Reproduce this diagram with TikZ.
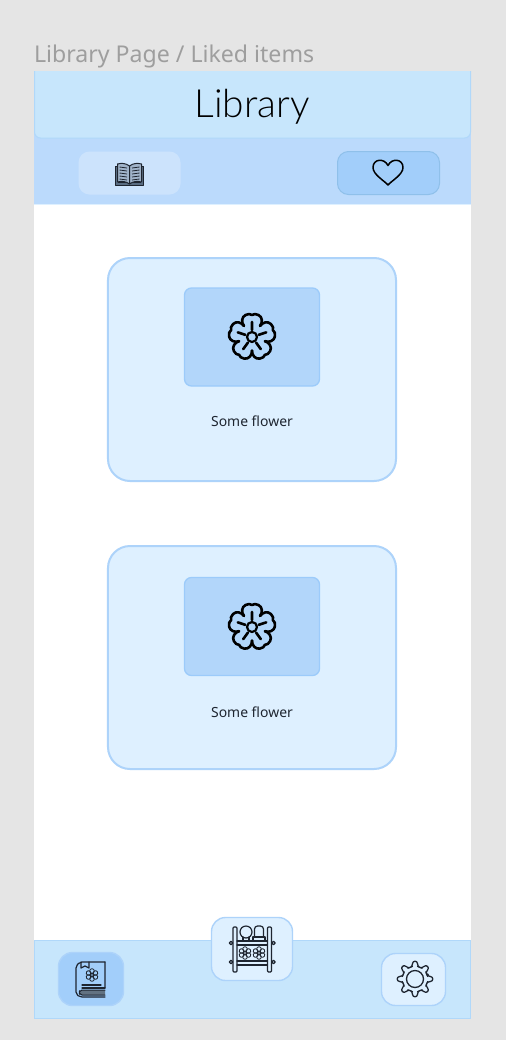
\documentclass[tikz,border=0pt]{standalone}
\usepackage{fontspec}
\setmainfont{Noto Sans}
\newfontfamily\thinfont{Lato Light}
\definecolor{pagecol}{HTML}{E5E5E5}
\definecolor{captioncol}{HTML}{9E9E9E}
\definecolor{barcol}{HTML}{C7E6FC}
\definecolor{barline}{HTML}{B0D8FA}
\definecolor{tabcol}{HTML}{BBDAFC}
\definecolor{softcol}{HTML}{CCE3FC}
\definecolor{activecol}{HTML}{A2CEFA}
\definecolor{activeline}{HTML}{8FC0EA}
\definecolor{cardcol}{HTML}{DEF0FF}
\definecolor{cardline}{HTML}{ADD3FA}
\definecolor{imgcol}{HTML}{B2D6FA}
\definecolor{imgline}{HTML}{9CCBFA}
\definecolor{inkcol}{HTML}{1E2530}
\tikzset{
  box/.style={rectangle,inner sep=0pt,outer sep=0pt},
  tabbtn/.style={box,rounded corners=11bp,minimum width=102bp,minimum height=43bp},
  card/.style={box,draw=cardline,fill=cardcol,line width=2bp,rounded corners=22bp,minimum width=288bp,minimum height=223bp},
  imgbox/.style={box,draw=imgline,fill=imgcol,line width=1.3bp,rounded corners=7bp,minimum width=135bp,minimum height=98bp},
  navbtn/.style={box,draw=cardline,line width=1.4bp,rounded corners=14bp},
  ink/.style={draw=inkcol,line width=1bp,line join=round,line cap=round},
  flowericon/.pic={
    \foreach \a in {0,72,...,288}
      \draw[black,line width=2.6bp,line join=round,line cap=round,rotate=\a]
        (-8,-11) .. controls (-10.8,-14.5) and (-10.5,-20) .. (-6.5,-22)
        .. controls (-4,-23.4) and (-1.5,-23.2) .. (0,-22)
        .. controls (1.5,-23.2) and (4,-23.4) .. (6.5,-22)
        .. controls (10.5,-20) and (10.8,-14.5) .. (8,-11)
        (0,-7) -- (0,-15);
    \draw[black,line width=2.2bp] (0,0) circle (5);
  },
  hearticon/.pic={
    \draw[black,line width=1.5bp,line join=round]
      (0,12.5) .. controls (-4,8) and (-15,2) .. (-15,-5)
      .. controls (-15,-13.5) and (-4,-15) .. (0,-7)
      .. controls (4,-15) and (15,-13.5) .. (15,-5)
      .. controls (15,2) and (4,8) .. (0,12.5) -- cycle;
  },
  bookicon/.pic={
    \draw[ink,fill=inkcol!60!imgcol] (-14,-8) -- (-14,11) -- (14,11) -- (14,-8) -- (11,-8) -- (11,8) -- (-11,8) -- (-11,-8) -- cycle;
    \draw[ink,fill=inkcol!25!softcol] (0,-8) .. controls (-4,-11) and (-8,-11) .. (-12,-10) -- (-12,8)
      .. controls (-8,7) and (-4,7) .. (0,10) .. controls (4,7) and (8,7) .. (12,8) -- (12,-10)
      .. controls (8,-11) and (4,-11) .. (0,-8) -- cycle (0,-8) -- (0,10);
    \foreach \y in {-6,-3,0,3,6} {
      \draw[draw=inkcol,line width=.8bp] (-10,\y-1) -- (-2.5,\y);
      \draw[draw=inkcol,line width=.8bp] (10,\y-1) -- (2.5,\y);
    }
  },
  smallflower/.pic={
    \foreach \a in {0,60,...,300}
      \draw[ink,line width=.8bp,rotate=\a] (0,-4) circle (2.3);
    \draw[ink,line width=.8bp] (0,0) circle (1.8);
  },
  flowerbook/.pic={
    \draw[ink,line width=1.2bp,rounded corners=2bp] (14,-17) -- (-11,-17) -- (-15,-13) -- (-15,15) -- (-11,18) -- (14,18);
    \draw[ink,line width=1.2bp] (14,-17) -- (14,9) (-10,-17) -- (-10,-11) -- (-6,-13) -- (-2,-11) -- (-2,-17);
    \draw[ink,line width=1.2bp] (-9,9) -- (14,9) (-9,6) -- (10,6);
    \draw[ink,fill=inkcol!60!barcol,line width=1bp,rounded corners=2bp] (14,11) -- (-11,11) -- (-12,13.5) -- (-11,16) -- (14,16);
    \pic at (1,-4) {smallflower};
  },
  gearicon/.pic={
    \draw[ink,line width=1.3bp,rounded corners=2.5bp]
      (-11:13)
      \foreach \a in {0,45,...,315} {
        -- (\a-11:13) -- (\a-8:18) -- (\a+8:18) -- (\a+11:13) -- (\a+22.5:12.5)
      } -- cycle;
    \draw[ink,line width=1.3bp] (0,0) circle (8.5);
  },
  shelficon/.pic={
    \draw[ink,line width=1.2bp,rounded corners=1bp] (-19,-22) rectangle (-15,23);
    \draw[ink,line width=1.2bp,rounded corners=1bp] (15.5,-22) rectangle (19.5,23);
    \draw[ink,line width=1.2bp] (-15,-8) -- (15.5,-8) (-15,-4) -- (15.5,-4);
    \draw[ink,line width=1.2bp] (-15,12) -- (15.5,12) (-15,16) -- (15.5,16);
    \foreach \x/\y in {-21/-6,-21/13,21.5/-6,21.5/13}
      \draw[ink,line width=1.2bp] (\x,\y) circle (1.8);
    \draw[ink,line width=1.2bp] (-6,-17) circle (6);
    \draw[ink,line width=1.2bp] (-9,-12) -- (-9,-8) (-3,-12) -- (-3,-8);
    \draw[ink,line width=1.2bp,rounded corners=3bp] (2.5,-12) -- (2.5,-23) -- (11.5,-23) -- (11.5,-12);
    \draw[ink,line width=1.2bp] (1,-12) rectangle (13,-8);
    \pic at (-7,4) {smallflower};
    \pic at (7,4) {smallflower};
  },
}
\begin{document}
\begin{tikzpicture}[x=1bp,y=-1bp]
  \useasboundingbox[fill=pagecol] (0,0) rectangle (506,1040);
  % Screen
  \fill[white] (34,71) rectangle (471,1019);
  \node[box,anchor=base west,text=captioncol,font=\fontsize{23.2}{26}\selectfont] (caption) at (34,62) {Library Page / Liked items};
  % Tab bar
  \fill[tabcol] (34,130) rectangle (471,204);
  \draw[draw=cardcol,line width=.6bp] (34,204.5) -- (471,204.5);
  \node[tabbtn,fill=softcol] (booktab) at (129.5,173) {};
  \node[tabbtn,fill=activecol,draw=activeline,line width=1bp] (likedtab) at (388.5,173) {};
  \pic at (129.5,174) {bookicon};
  \pic at (388,172.5) {hearticon};
  % Header
  \filldraw[fill=barcol,draw=barline,line width=1bp,rounded corners=6bp] (34.5,71) -- (34.5,138) -- (470.5,138) -- (470.5,71);
  \node[box,anchor=base,font=\thinfont\fontsize{39}{42}\selectfont,text=black] (title) at (252,117) {Library};
  % Cards
  \node[card] (card1) at (252,369.5) {};
  \node[imgbox] (img1) at (252,337) {};
  \pic at (252,337) {flowericon};
  \node[box,font=\fontsize{14}{16}\selectfont,text=inkcol] (name1) at (252,421) {Some flower};
  \node[card] (card2) at (252,657.5) {};
  \node[imgbox] (img2) at (252,626.5) {};
  \pic at (252,627) {flowericon};
  \node[box,font=\fontsize{14}{16}\selectfont,text=inkcol] (name2) at (252,712) {Some flower};
  % Bottom bar
  \filldraw[fill=barcol,draw=barline,line width=1bp] (34.5,940.5) rectangle (470.5,1018.5);
  \node[navbtn,fill=activecol,minimum width=65bp,minimum height=53bp] (librarybtn) at (91,979) {};
  \node[navbtn,fill=cardcol,minimum width=81bp,minimum height=63bp] (shelfbtn) at (252,949) {};
  \node[navbtn,fill=cardcol,minimum width=64bp,minimum height=52bp] (gearbtn) at (413.5,979.5) {};
  \pic at (librarybtn.center) {flowerbook};
  \pic at (shelfbtn.center) {shelficon};
  \pic at (415,979) {gearicon};
\end{tikzpicture}
\end{document}
